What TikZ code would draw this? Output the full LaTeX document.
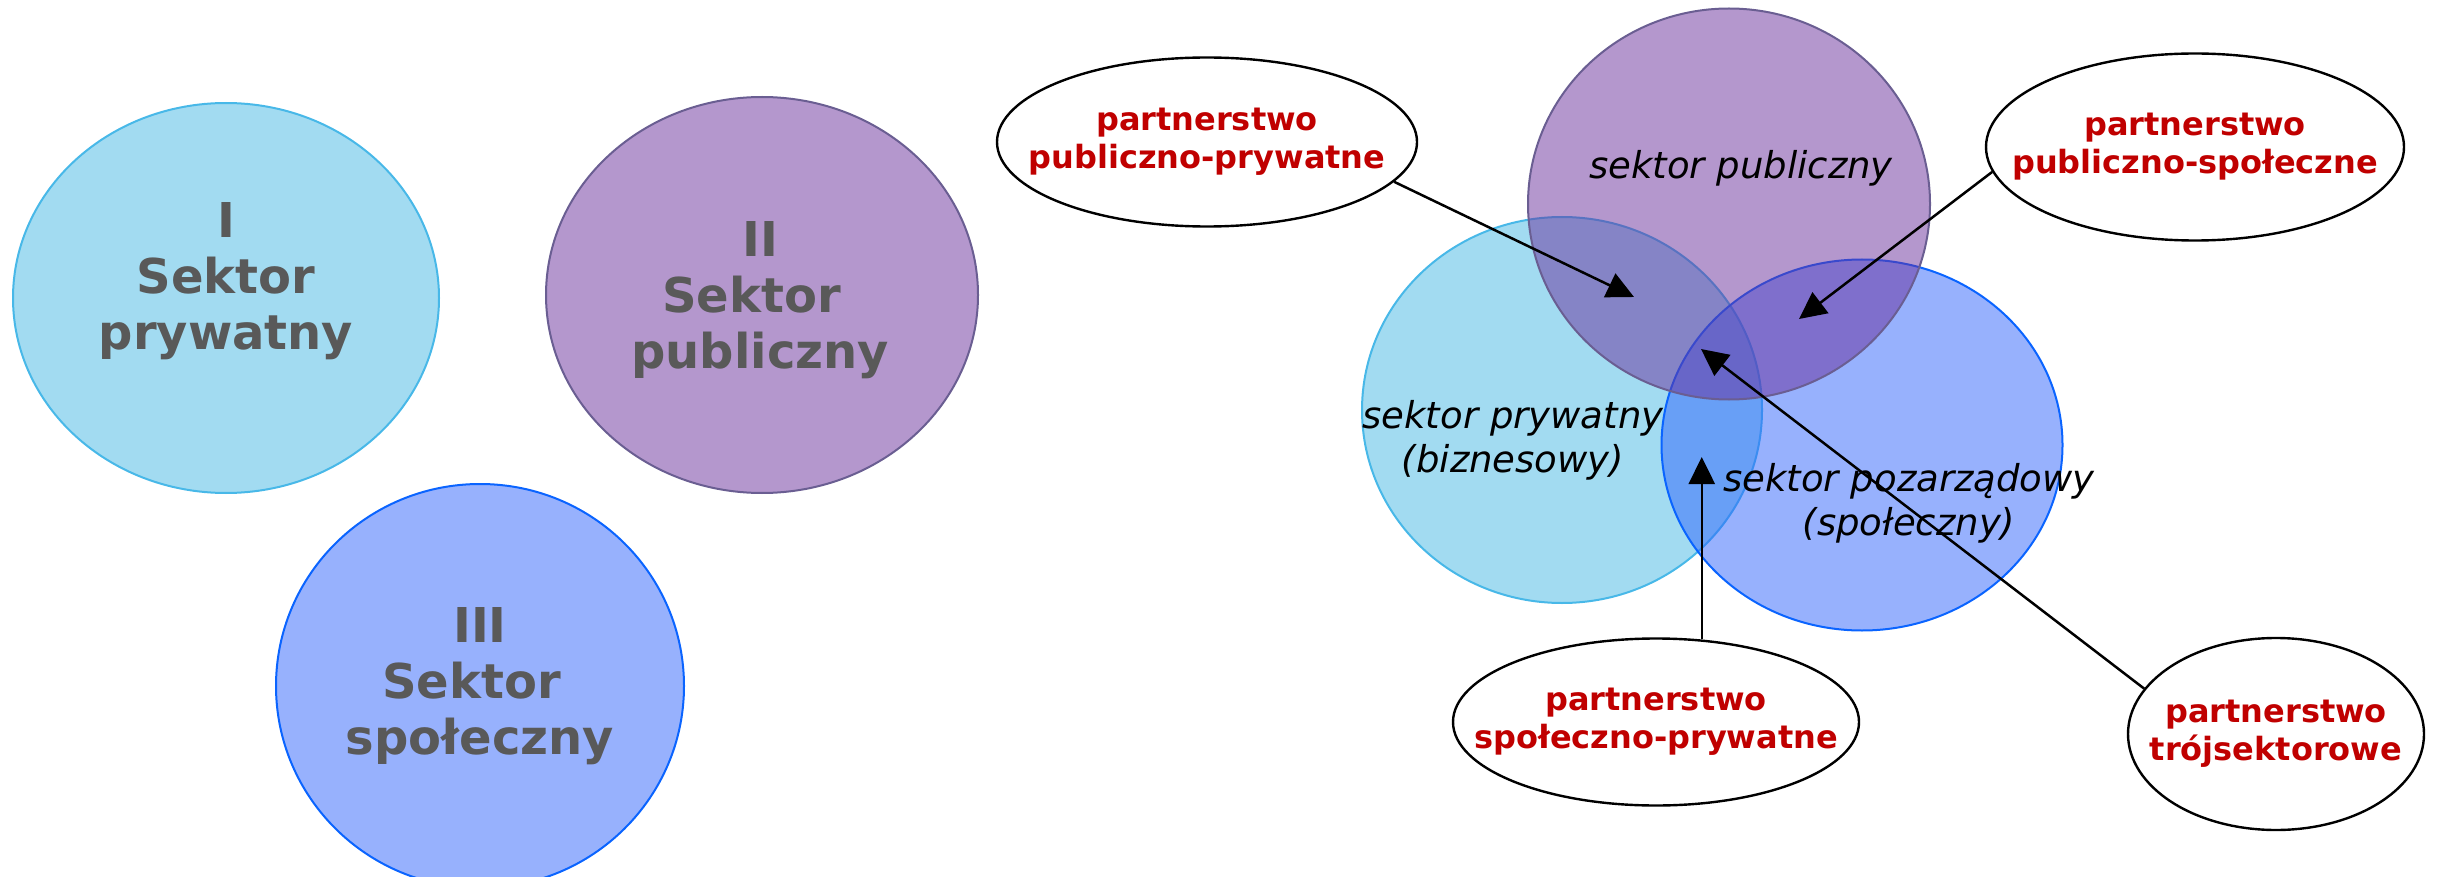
\documentclass[tikz,border=0pt]{standalone}
\usepackage{fontspec}
\setmainfont{DejaVu Sans}
\usetikzlibrary{shapes.geometric,arrows.meta}
\definecolor{lbfill}{RGB}{69,183,227}
\definecolor{lbdraw}{RGB}{72,184,232}
\definecolor{pufill}{RGB}{105,47,155}
\definecolor{pudraw}{RGB}{106,94,146}
\definecolor{blfill}{RGB}{47,99,251}
\definecolor{bldraw}{RGB}{10,100,255}
\definecolor{redtxt}{RGB}{192,0,0}
\definecolor{graytxt}{RGB}{89,89,89}
\begin{document}
\begin{tikzpicture}[x=1pt,y=-1pt,
  sect/.style={ellipse, inner sep=0pt, line width=2pt, fill opacity=0.5},
  lb/.style={sect, draw=lbdraw, fill=lbfill},
  pu/.style={sect, draw=pudraw, fill=pufill},
  bl/.style={sect, draw=bldraw, fill=blfill},
  big/.style={align=center, text=graytxt, font=\fontsize{48}{56}\selectfont\bfseries},
  ital/.style={align=center, text=black, font=\fontsize{37}{44}\selectfont\itshape},
  pell/.style={ellipse, draw=black, line width=2.4pt, fill=white, inner sep=0pt},
  ptext/.style={align=center, text=redtxt, font=\fontsize{32}{38}\selectfont\bfseries},
  arr/.style={line width=2.5pt, -{Triangle[length=27pt,width=26pt]}}]
\useasboundingbox (0,0) rectangle (2438,877);
% left: three sectors
\node[lb, minimum width=426, minimum height=390] (e1) at (226,298) {};
\node[pu, minimum width=432, minimum height=396] (e2) at (762,295) {};
\node[bl, minimum width=408, minimum height=404] (e3) at (480,686) {};
\node[big] (t1) at (226,281) {I\\Sektor\\prywatny};
\node[big] (t2) at (760,300) {II\\\mbox{Sektor\ }\\publiczny};
\node[big] (t3) at (480,686) {III\\\mbox{Sektor\ }\\społeczny};
% right: Venn diagram
\node[lb, minimum width=400, minimum height=386] (priv) at (1562,410) {};
\node[bl, minimum width=401, minimum height=371] (ngo) at (1862,445) {};
\node[pu, minimum width=402, minimum height=391] (pub) at (1729,204) {};
\node[ital] (tpub) at (1741,168) {sektor publiczny};
\node[ital] (tpriv) at (1513,440) {sektor prywatny\\(biznesowy)};
\node[ital] (tngo) at (1909,503) {sektor pozarządowy\\(społeczny)};
% partnership labels
\node[pell, minimum width=420, minimum height=169] (ppp) at (1207,142) {};
\node[ptext] (tppp) at (ppp.center) {partnerstwo\\publiczno-prywatne};
\node[pell, minimum width=418, minimum height=187] (pps) at (2195,147) {};
\node[ptext] (tpps) at (pps.center) {partnerstwo\\publiczno-społeczne};
\node[pell, minimum width=406, minimum height=167] (psp) at (1656,722) {};
\node[ptext] (tpsp) at (psp.center) {partnerstwo\\społeczno-prywatne};
\node[pell, minimum width=296, minimum height=192] (p3) at (2276,734) {};
\node[ptext] (tp3) at (p3.center) {partnerstwo\\trójsektorowe};
% arrows
\coordinate (tip1) at (1634,297);
\coordinate (tip2) at (1799,319);
\coordinate (tip3) at (1702,457);
\coordinate (tip4) at (1701,349);
\draw[arr] (ppp.-12) -- (tip1);
\draw[arr] (pps.187.7) -- (tip2);
\draw[arr] (psp.61) -- (psp.61 |- tip3);
\draw[arr] (p3.161.7) -- (tip4);
\end{tikzpicture}
\end{document}
